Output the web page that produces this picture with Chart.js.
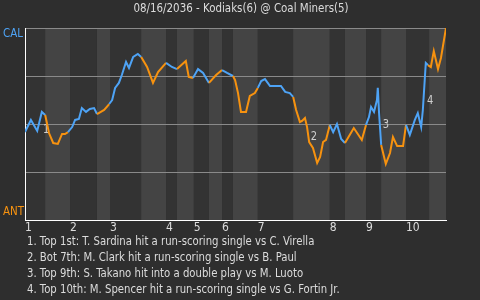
<!DOCTYPE html>
<html>
<head>
<meta charset="utf-8">
<script src="https://cdn.jsdelivr.net/npm/chart.js@4.4.1/dist/chart.umd.min.js"></script>
<style>
  html, body { margin: 0; padding: 0; background: #2e2e2e; }
  #wrap { width: 480px; height: 300px; }
</style>
</head>
<body>
<div id="wrap"><canvas id="wp-chart" width="480" height="300"></canvas></div>
<script>
var title = '08/16/2036 - Kodiaks(6) @ Coal Miners(5)';
var topTeam = 'CAL';
var bottomTeam = 'ANT';

// game progress (0-100) where each half inning starts, last value = end of game
var halfStarts = [0, 4.8, 10.7, 17.1, 20.2, 27.6, 33.5, 36.1, 40.1, 43.7, 46.8,
                  49.4, 55.3, 63.7, 72.4, 76.0, 81.0, 84.6, 90.5, 96.0, 100];
var inningLabels = ['1', '2', '3', '4', '5', '6', '7', '8', '9', '10'];

// win probability for CAL after each play
var progress = [0, 1.4, 2.9, 4.0, 4.8,
    5.7, 6.7, 7.8, 8.8, 9.5, 10.2,
    11.2, 11.9, 12.8, 13.5, 14.5, 15.4, 16.4, 17.1,
    18.8, 20.0,
    20.7, 21.4, 22.3, 23.0, 24.0, 24.7, 25.7, 26.8, 27.6,
    29.0, 30.4, 31.6, 33.5,
    34.9, 36.1,
    38.2, 38.9, 39.9,
    41.1, 42.3, 43.7,
    45.4, 46.8,
    48.0, 49.4,
    49.9, 50.6, 51.3, 52.5, 53.4, 54.6, 55.3,
    56.1, 57.0, 58.2, 60.8, 61.8, 62.9, 63.7,
    64.4, 65.3, 65.8, 66.5, 67.0, 67.5, 68.4, 69.4, 70.1, 70.8, 71.5, 72.4,
    73.2, 74.1, 75.1, 76.0,
    78.1, 80.0, 81.0,
    81.7, 82.2, 82.9, 83.6, 83.8, 84.1, 84.6,
    85.7, 86.7, 87.4, 88.4, 89.8, 90.5,
    91.4, 92.6, 93.3, 94.1, 94.5, 95.2, 95.7,
    96.4, 97.1, 98.1, 98.8, 100];
var winProb = [45.8, 52.1, 46.4, 56.3, 54.7,
    45.3, 40.1, 39.6, 44.8, 44.8, 45.8,
    48.4, 52.1, 52.6, 58.3, 56.3, 57.8, 58.3, 55.2,
    57.3, 60.4,
    62.5, 68.8, 71.4, 75.5, 82.3, 79.2, 84.9, 86.5, 84.9,
    79.7, 71.4, 77.1, 81.8,
    79.7, 78.6,
    82.8, 74.5, 74.0,
    78.6, 76.6, 71.4,
    75.5, 78.1,
    76.6, 75.0,
    72.9, 66.1, 56.3, 56.3, 64.6, 66.1, 68.8,
    72.4, 73.4, 69.8, 69.8, 66.7, 66.1, 64.1,
    57.3, 51.0, 51.6, 53.1, 48.4, 40.6, 37.5, 29.7, 32.8, 40.6, 41.7, 49.5,
    45.8, 50.0, 42.2, 40.1,
    47.9, 41.7, 49.5,
    53.6, 58.9, 56.3, 62.5, 68.8, 55.7, 39.1,
    29.2, 34.9, 43.2, 38.5, 38.5, 49.5,
    44.3, 52.1, 55.7, 48.4, 57.3, 81.8, 80.7,
    79.7, 88.0, 78.6, 84.4, 100];

// key plays: where the number sits on the chart, and the note under it
var eventX = [4.3, 67.9, 85.0, 95.5];
var eventY = [47.1, 43.2, 49.5, 62.0];
var eventNotes = [
  'Top 1st: T. Sardina hit a run-scoring single vs C. Virella',
  'Bot 7th: M. Clark hit a run-scoring single vs B. Paul',
  'Top 9th: S. Takano hit into a double play vs M. Luoto',
  'Top 10th: M. Spencer hit a run-scoring single vs G. Fortin Jr.'
];

var FONT = "'DejaVu Sans Condensed', 'DejaVu Sans', sans-serif";
var BLUE = '#4ea3f5';
var ORANGE = '#f7920f';
var TEXT = '#dcdcdc';

function halfIndex(x) {
  for (var i = 0; i < halfStarts.length - 1; i++) {
    if (x < halfStarts[i + 1]) return i;
  }
  return halfStarts.length - 2;
}

// draw narrow text (the original uses a condensed face)
function narrowText(ctx, text, x, y, size, squeeze, align) {
  ctx.save();
  ctx.font = size + 'px ' + FONT;
  ctx.textBaseline = 'middle';
  ctx.textAlign = align || 'left';
  ctx.translate(x, y);
  ctx.scale(squeeze, 1);
  ctx.fillText(text, 0, 0);
  ctx.restore();
}

var points = progress.map(function(p, i) { return { x: p, y: winProb[i] }; });

var gamePlugin = {
  id: 'gameDecor',
  beforeDraw: function(chart) {
    var ctx = chart.ctx;
    var area = chart.chartArea;
    var x = chart.scales.x;
    ctx.save();
    ctx.fillStyle = '#2e2e2e';
    ctx.fillRect(0, 0, chart.width, chart.height);
    for (var i = 0; i < halfStarts.length - 1; i++) {
      var x0 = x.getPixelForValue(halfStarts[i]);
      var x1 = x.getPixelForValue(halfStarts[i + 1]);
      ctx.fillStyle = i % 2 === 0 ? '#333333' : '#444444';
      ctx.fillRect(x0, area.top, x1 - x0, area.bottom - area.top);
    }
    ctx.fillStyle = TEXT;
    narrowText(ctx, title, 241, 9, 13, 0.88, 'center');
    ctx.fillStyle = BLUE;
    narrowText(ctx, topTeam, 3, 34, 13, 0.88);
    ctx.fillStyle = ORANGE;
    narrowText(ctx, bottomTeam, 3, 212, 13, 0.88);
    ctx.restore();
  },
  beforeDatasetsDraw: function(chart) {
    var ctx = chart.ctx;
    ctx.save();
    ctx.fillStyle = '#cfcfcf';
    eventX.forEach(function(ex, i) {
      narrowText(ctx, String(i + 1), chart.scales.x.getPixelForValue(ex),
                 chart.scales.y.getPixelForValue(eventY[i]), 13, 0.85);
    });
    ctx.restore();
  },
  afterDraw: function(chart) {
    var ctx = chart.ctx;
    ctx.save();
    ctx.fillStyle = TEXT;
    eventNotes.forEach(function(note, i) {
      narrowText(ctx, (i + 1) + '. ' + note, 27, 242 + i * 15.9, 12.5, 0.9);
    });
    ctx.restore();
  }
};

var wpChart = new Chart(document.getElementById('wp-chart'), {
    type: 'line',
    data: {
        datasets: [{
            data: points,
            borderWidth: 2,
            pointRadius: 0,
            tension: 0,
            fill: false,
            borderColor: BLUE,
            segment: {
                borderColor: function(c) {
                    var mid = (c.p0.parsed.x + c.p1.parsed.x) / 2;
                    return halfIndex(mid) % 2 === 0 ? BLUE : ORANGE;
                }
            }
        }]
    },
    options: {
        responsive: false,
        animation: false,
        layout: { padding: { top: 28, right: 34, left: 0, bottom: 0 } },
        plugins: {
            legend: { display: false },
            tooltip: { enabled: false }
        },
        scales: {
            x: {
                type: 'linear',
                min: 0,
                max: 100,
                grid: { display: false, drawTicks: false },
                border: { display: true, color: '#ffffff', width: 1 },
                afterBuildTicks: function(scale) {
                    scale.ticks = halfStarts.filter(function(v, i) { return i % 2 === 0 && i < 20; })
                        .map(function(v) { return { value: v }; });
                },
                afterFit: function(scale) { scale.height = 80; },
                ticks: {
                    autoSkip: false,
                    maxRotation: 0,
                    align: 'start',
                    padding: 1,
                    color: TEXT,
                    font: { family: FONT, size: 12 },
                    callback: function(value, index) { return inningLabels[index]; }
                }
            },
            y: {
                min: 0,
                max: 100,
                afterFit: function(scale) { scale.width = 25; },
                grid: {
                    drawTicks: false,
                    color: function(c) { return c.tick && c.tick.value === 0 ? 'rgba(0,0,0,0)' : '#8a8a8a'; },
                    lineWidth: 1
                },
                border: { display: true, color: '#ffffff', width: 1 },
                ticks: { display: false, stepSize: 25 }
            }
        }
    },
    plugins: [gamePlugin]
});
</script>
</body>
</html>
